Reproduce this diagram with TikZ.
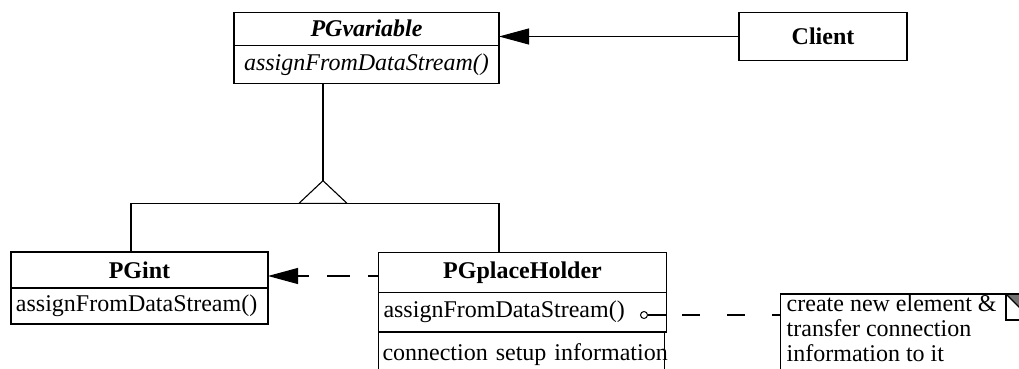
\documentclass[tikz,border=0pt]{standalone}
\usepackage{fontspec}
\setmainfont{Liberation Serif}
\usetikzlibrary{arrows.meta}
\begin{document}
\begin{tikzpicture}[x=1pt,y=-1pt,
  every node/.style={font=\fontsize{24}{25}\selectfont},
  comp/.style={draw, line width=1.1pt, rectangle, anchor=north west, outer sep=0pt, inner xsep=5pt, inner ysep=0pt},
  conn/.style={line width=1.1pt},
  head/.style={-{Triangle[length=30pt,width=16pt]}},
  lolli/.style={draw, circle, line width=1pt, minimum size=7pt, inner sep=0pt, outer sep=0pt}
]
\useasboundingbox (0,0) rectangle (1019,369);
\clip (0,0) rectangle (1019,369);

% PGvariable
\node[comp, text width=255pt, align=center, minimum height=33pt] (pgvT) at (234,12.3) {\textbf{\textit{PGvariable}}};
\node[comp, text width=255pt, align=center, minimum height=38pt] (pgvM) at (pgvT.south west) {\textit{assignFromDataStream()}};

% Client
\node[comp, text width=158pt, align=center, minimum height=48.4pt] (client) at (739,12.3) {\textbf{Client}};

% PGint
\node[comp, text width=247pt, align=center, minimum height=36pt] (pgintT) at (11,252) {\textbf{PGint}};
\node[comp, text width=247pt, align=left, minimum height=36pt] (pgintM) at (pgintT.south west) {assignFromDataStream()};

% PGplaceHolder
\node[comp, text width=278pt, align=center, minimum height=40pt] (pgphT) at (378.5,252.5) {\textbf{PGplaceHolder}};
\node[comp, text width=278pt, align=left, minimum height=39.5pt] (pgphM) at (pgphT.south west) {assignFromDataStream()};
\node[comp, text width=278pt, align=left, minimum height=50pt, inner xsep=4pt, text depth=10pt] (pgphI) at (pgphM.south west) {\mbox{connection setup information}};

% Note
\node[comp, inner xsep=6pt, inner ysep=1pt, anchor=north west] (note) at (780.7,294)
  {\parbox[t][110pt][t]{300pt}{\raggedright create new element \&\\transfer connection\\information to it}};
\fill[black!55] (1006,294) -- (1032,294) -- (1032,320) -- cycle;
\draw[conn] (1006,294) rectangle (1032,320);
\draw[conn] (1006,294) -- (1032,320);

% Client -> PGvariable
\draw[conn, head] (client.west) -- (client.west -| pgvT.east);

% Generalization
\coordinate (apex) at (323,180.7);
\coordinate (bl) at (299,203.3);
\coordinate (br) at (347,203.3);
\coordinate (jl) at (131,203.3);
\coordinate (jr) at (499,203.3);
\draw[conn] (pgvM.south -| apex) -- (apex);
\draw[conn, line join=miter] (apex) -- (bl) -- (br) -- cycle;
\draw[conn] (pgintT.north -| jl) -- (jl) -- (jr) -- (pgphT.north -| jr);

% PGplaceHolder -> PGint (dashed)
\coordinate (dy) at (0,276);
\draw[conn, head, dash pattern=on 23pt off 18pt, dash phase=12.5pt] (pgphT.west |- dy) -- (pgintT.east |- dy);

% lollipop to note
\node[lolli] (lp) at (644,315) {};
\draw[conn] (lp.east) -- (lp.east -| pgphM.east);
\draw[conn, dash pattern=on 18pt off 27pt, dash phase=29.5pt] (lp.east -| pgphM.east) -- (lp.east -| note.west);
\end{tikzpicture}
\end{document}
